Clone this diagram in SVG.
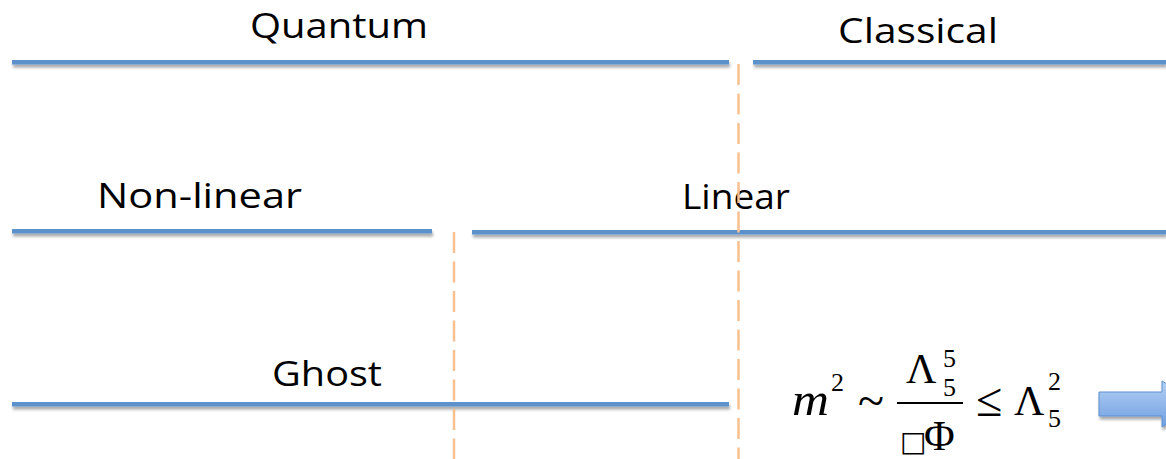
<svg xmlns="http://www.w3.org/2000/svg" width="1166" height="459" viewBox="0 0 1166 459">
<defs>
<style>
.lbl{font-family:"Open Sans","Liberation Sans",sans-serif;font-size:35px;fill:#000}
.bar{fill:#5b91cc;filter:url(#sh)}
.dash{stroke:#f9c08f;stroke-width:2.5;stroke-dasharray:21 8.5;fill:none}
.m{font-family:"Liberation Serif","Times New Roman",serif;fill:#000}
</style>
<filter id="sh" filterUnits="userSpaceOnUse" x="0" y="0" width="1166" height="459">
<feGaussianBlur in="SourceAlpha" stdDeviation="1.5" result="b"/>
<feOffset in="b" dx="1" dy="3" result="o"/>
<feComponentTransfer in="o" result="s"><feFuncA type="linear" slope="0.35"/></feComponentTransfer>
<feMerge><feMergeNode in="s"/><feMergeNode in="SourceGraphic"/></feMerge>
</filter>
<linearGradient id="ag" x1="0" y1="0" x2="0" y2="1">
<stop offset="0" stop-color="#b3d0f5"/>
<stop offset="1" stop-color="#6f9fe0"/>
</linearGradient>
</defs>
<rect width="1166" height="459" fill="#fff"/>
<g id="quantum">
<rect class="bar" x="12" y="60" width="717" height="4.5"/>
<text class="lbl" x="250" y="38" textLength="178" lengthAdjust="spacingAndGlyphs">Quantum</text>
</g>
<g id="classical">
<rect class="bar" x="753" y="60" width="413" height="4.5"/>
<text class="lbl" x="838" y="43" textLength="160" lengthAdjust="spacingAndGlyphs">Classical</text>
</g>
<g id="nonlinear">
<rect class="bar" x="12" y="229" width="420" height="4.5"/>
<text class="lbl" x="97" y="208" textLength="205" lengthAdjust="spacingAndGlyphs">Non-linear</text>
</g>
<g id="linear">
<rect class="bar" x="472" y="230" width="694" height="4.5"/>
<text class="lbl" x="682" y="209" textLength="108" lengthAdjust="spacingAndGlyphs">Linear</text>
</g>
<g id="ghost">
<rect class="bar" x="12" y="402" width="717" height="4.5"/>
<text class="lbl" x="272" y="386" textLength="110" lengthAdjust="spacingAndGlyphs">Ghost</text>
</g>
<g id="connectors">
<line class="dash" x1="738.5" y1="64" x2="738.5" y2="459"/>
<line class="dash" x1="454" y1="232" x2="454" y2="459"/>
</g>
<g id="formula">
<text class="m" x="792" y="415" font-size="46" font-style="italic" textLength="37" lengthAdjust="spacingAndGlyphs">m</text>
<text class="m" x="831" y="391" font-size="26">2</text>
<text class="m" x="858" y="417" font-size="48">~</text>
<line x1="897" y1="403" x2="963" y2="403" stroke="#000" stroke-width="2"/>
<text class="m" x="906" y="383" font-size="42">Λ</text>
<text class="m" x="943" y="367" font-size="26">5</text>
<text class="m" x="943" y="396" font-size="26">5</text>
<text x="900" y="451" font-family="DejaVu Sans,sans-serif" font-size="28" fill="#000">□</text>
<text class="m" x="924" y="450" font-size="42">Φ</text>
<text class="m" x="976" y="416" font-size="48">≤</text>
<text class="m" x="1014" y="415" font-size="42">Λ</text>
<text class="m" x="1048" y="390" font-size="26">2</text>
<text class="m" x="1048" y="427" font-size="26">5</text>
</g>
<g id="arrow" filter="url(#sh)">
<path d="M1099,392 H1162 V381 L1200,404 L1162,427 V416 H1099 Z" fill="url(#ag)" stroke="#5f8fd0" stroke-width="1"/>
</g>
</svg>
